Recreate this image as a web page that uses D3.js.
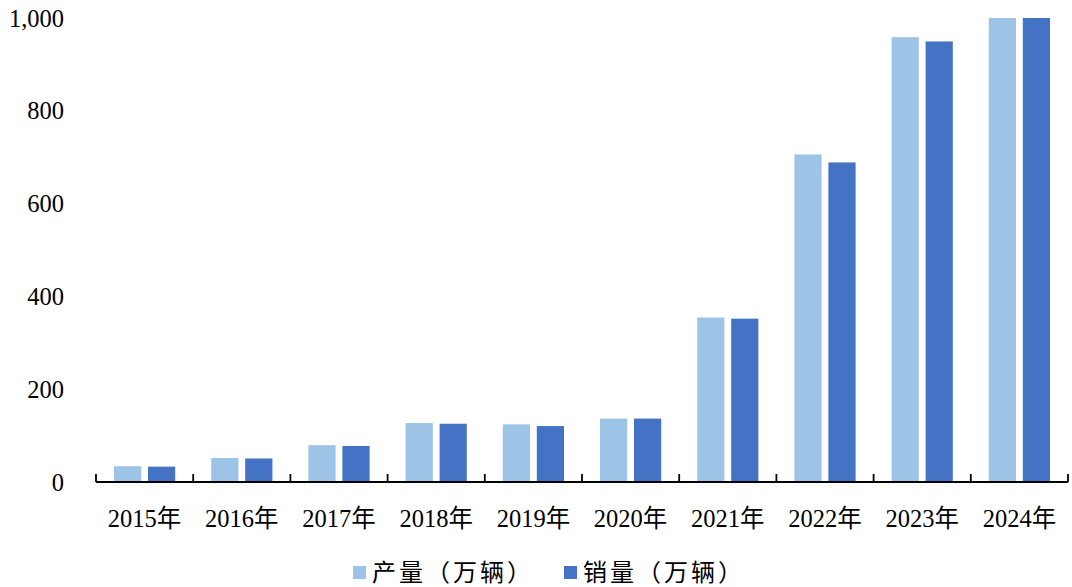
<!DOCTYPE html>
<html>
<head>
<meta charset="utf-8">
<script src="https://cdn.jsdelivr.net/npm/d3@7"></script>
<style>
  body { margin: 0; background: #fff; }
  svg text { font-family: "Liberation Serif", "Times New Roman", "Noto Sans CJK SC", serif; fill: #000; }
</style>
</head>
<body>
<svg id="chart" width="1072" height="587"></svg>
<script>
const years = ["2015年", "2016年", "2017年", "2018年", "2019年", "2020年", "2021年", "2022年", "2023年", "2024年"];
const production = [34.0, 51.7, 79.4, 127.0, 124.2, 136.6, 354.5, 705.8, 958.7, 1288.8];
const sales = [33.1, 50.7, 77.7, 125.6, 120.6, 136.7, 352.1, 688.7, 949.5, 1286.6];
const yTicks = [0, 200, 400, 600, 800, 1000];
const seriesNames = ["产量（万辆）", "销量（万辆）"];
const colors = ["#9dc3e6", "#4472c4"];

const svg = d3.select("#chart");
const plotLeft = 96, plotRight = 1068, plotTop = 18, plotBottom = 482;

const x = d3.scaleBand().domain(years).range([plotLeft, plotRight]).paddingInner(0).paddingOuter(0);
const sub = d3.scaleBand().domain([0, 1]).range([18, x.bandwidth() - 18]).paddingInner(0.2);
const y = d3.scaleLinear().domain([0, 1000]).range([plotBottom, plotTop]).clamp(true);

// y labels only
svg.append("g")
  .selectAll("text")
  .data(yTicks)
  .enter()
  .append("text")
  .attr("x", 64)
  .attr("y", (d) => y(d))
  .attr("dy", "0.35em")
  .attr("text-anchor", "end")
  .style("font-size", "24.5px")
  .text((d) => d3.format(",")(d));

// bars
const series = [production, sales];
series.forEach((vals, i) => {
  svg.append("g")
    .selectAll("rect")
    .data(vals)
    .enter()
    .append("rect")
    .attr("x", (d, j) => x(years[j]) + sub(i))
    .attr("y", (d) => y(d))
    .attr("width", sub.bandwidth())
    .attr("height", (d) => plotBottom - y(d))
    .attr("fill", colors[i]);
});

// x axis
const xAxis = svg.append("g").attr("transform", `translate(0,${plotBottom})`);
xAxis.append("line")
  .attr("x1", plotLeft).attr("x2", plotRight)
  .attr("stroke", "#000").attr("stroke-width", 1.8);
const bounds = years.map((d) => x(d)).concat([plotRight]);
xAxis.selectAll(".tk")
  .data(bounds)
  .enter()
  .append("line")
  .attr("x1", (d) => d).attr("x2", (d) => d)
  .attr("y1", 0).attr("y2", -8)
  .attr("stroke", "#000").attr("stroke-width", 1.8);
xAxis.selectAll("text")
  .data(years)
  .enter()
  .append("text")
  .attr("x", (d) => x(d) + x.bandwidth() / 2)
  .attr("y", 45)
  .attr("text-anchor", "middle")
  .style("font-size", "24.5px")
  .text((d) => d);

// legend
const legendX = [353, 564];
const legend = svg.append("g");
seriesNames.forEach((name, i) => {
  legend.append("rect")
    .attr("x", legendX[i]).attr("y", 566)
    .attr("width", 13).attr("height", 13)
    .attr("fill", colors[i]);
  legend.append("text")
    .attr("x", legendX[i] + 19)
    .attr("y", 581)
    .style("font-size", "24px")
    .style("letter-spacing", "3px")
    .text(name);
});
</script>
</body>
</html>
